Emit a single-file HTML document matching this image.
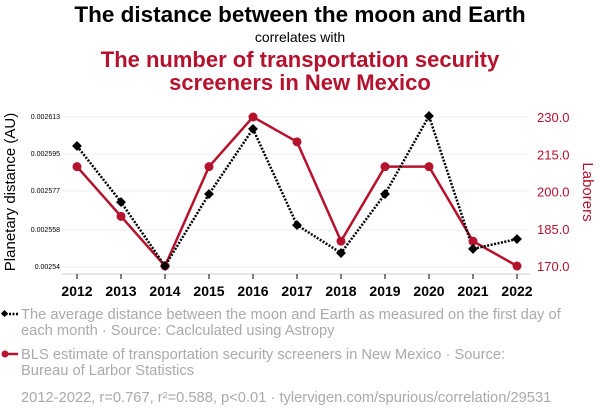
<!DOCTYPE html>
<html><head><meta charset="utf-8"><style>
body{margin:0;background:#fff;font-family:"Liberation Sans",Arial,sans-serif}
svg{display:block}
</style></head><body>
<svg width="600" height="414" viewBox="0 0 600 414">
<text x="300" y="22" text-anchor="middle" font-size="22.5" font-weight="bold" fill="#000">The distance between the moon and Earth</text>
<text x="300" y="42" text-anchor="middle" font-size="14" fill="#000">correlates with</text>
<text x="300" y="67" text-anchor="middle" font-size="22" font-weight="bold" fill="#b5122e">The number of transportation security</text>
<text x="300" y="90" text-anchor="middle" font-size="22" font-weight="bold" fill="#b5122e">screeners in New Mexico</text>
<g id="grid"></g>
<g id="axes"></g>
<g id="marks"></g>
<text transform="translate(15,192) rotate(-90)" text-anchor="middle" font-size="15" fill="#000">Planetary distance (AU)</text>
<text transform="translate(583,192) rotate(90)" text-anchor="middle" font-size="15" fill="#b5122e">Laborers</text>
<g>
<line x1="2" y1="314" x2="18" y2="314" stroke="#000" stroke-width="2.5" stroke-dasharray="2,1.5"/>
<rect x="2" y="311" width="5" height="5" transform="rotate(45 4.5 313.5)" fill="#000"/>
<text x="21" y="319" font-size="14.7" fill="#aaa">The average distance between the moon and Earth as measured on the first day of</text>
<text x="21" y="335" font-size="14.7" fill="#aaa">each month · Source: Caclculated using Astropy</text>
</g>
<g>
<line x1="2" y1="354" x2="18" y2="354" stroke="#b5122e" stroke-width="2.5"/>
<circle cx="5" cy="354" r="3.5" fill="#b5122e"/>
<text x="21" y="359" font-size="14.7" fill="#aaa">BLS estimate of transportation security screeners in New Mexico · Source:</text>
<text x="21" y="375" font-size="14.7" fill="#aaa">Bureau of Larbor Statistics</text>
</g>
<text x="21" y="402" font-size="14.7" fill="#aaa">2012-2022, r=0.767, r²=0.588, p&lt;0.01 · tylervigen.com/spurious/correlation/29531</text>
</svg>
<script>
const years=[2012,2013,2014,2015,2016,2017,2018,2019,2020,2021,2022];
const moon=[0.0025989,0.0025716,0.0025405,0.0025755,0.0026072,0.0025604,0.0025468,0.0025755,0.0026135,0.0025488,0.0025536];
const screeners=[210,190,170,210,230,220,180,210,210,180,170];
const leftTicks=[0.00254,0.002558,0.002577,0.002595,0.002613];
const leftTickLabels=["0.00254","0.002558","0.002577","0.002595","0.002613"];
const rightTicks=[170,185,200,215,230];
const rightTickLabels=["170.0","185.0","200.0","215.0","230.0"];

const NS="http://www.w3.org/2000/svg";
const x=y=>77+(y-2012)*44;
const yL=v=>267-(v-0.00254)/0.000073*150;
const yR=v=>266-(v-170)/60*149;
function mk(tag,attrs,parent){const e=document.createElementNS(NS,tag);for(const k in attrs)e.setAttribute(k,attrs[k]);parent.appendChild(e);return e;}
const grid=document.getElementById('grid'),axes=document.getElementById('axes'),marks=document.getElementById('marks');
leftTicks.forEach((t,i)=>{
  const l=mk('line',{x1:62,x2:530,y1:yL(t),y2:yL(t),stroke:'#eee','stroke-width':1},grid);
  
  
  const tx=mk('text',{x:60,y:yL(t)+2,'text-anchor':'end','font-size':7,fill:'#000'},axes);
  tx.textContent=leftTickLabels[i];
  
  
});
rightTicks.forEach((t,i)=>{
  const tx=mk('text',{x:537,y:yR(t)+5,'font-size':13,fill:'#b5122e'},axes);
  tx.textContent=rightTickLabels[i];
  
  
});
const ax=mk('line',{x1:62,x2:530,y1:274,y2:274,stroke:'#ccc','stroke-width':1},axes);


years.forEach(yr=>{
  const t=mk('line',{x1:x(yr),x2:x(yr),y1:274,y2:279,stroke:'#000','stroke-width':1},axes);
  
  
  const tx=mk('text',{x:x(yr),y:296,'text-anchor':'middle','font-size':14,'font-weight':'bold',fill:'#000'},axes);
  tx.textContent=yr;
  
  
});
const pr=mk('polyline',{points:years.map((yr,i)=>x(yr)+','+yR(screeners[i])).join(' '),fill:'none',stroke:'#b5122e','stroke-width':2.5},marks);


const pm=mk('polyline',{points:years.map((yr,i)=>x(yr)+','+yL(moon[i])).join(' '),fill:'none',stroke:'#000','stroke-width':2.5,'stroke-dasharray':'2,1.5'},marks);


years.forEach((yr,i)=>{
  const c=mk('circle',{cx:x(yr),cy:yR(screeners[i]),r:4.5,fill:'#b5122e'},marks);
  
  
  const cx=x(yr),cy=yL(moon[i]);
  const d=mk('rect',{x:cx-3.5,y:cy-3.5,width:7,height:7,fill:'#000',transform:`rotate(45 ${cx} ${cy})`},marks);
  
  
});
</script>
</body></html>
